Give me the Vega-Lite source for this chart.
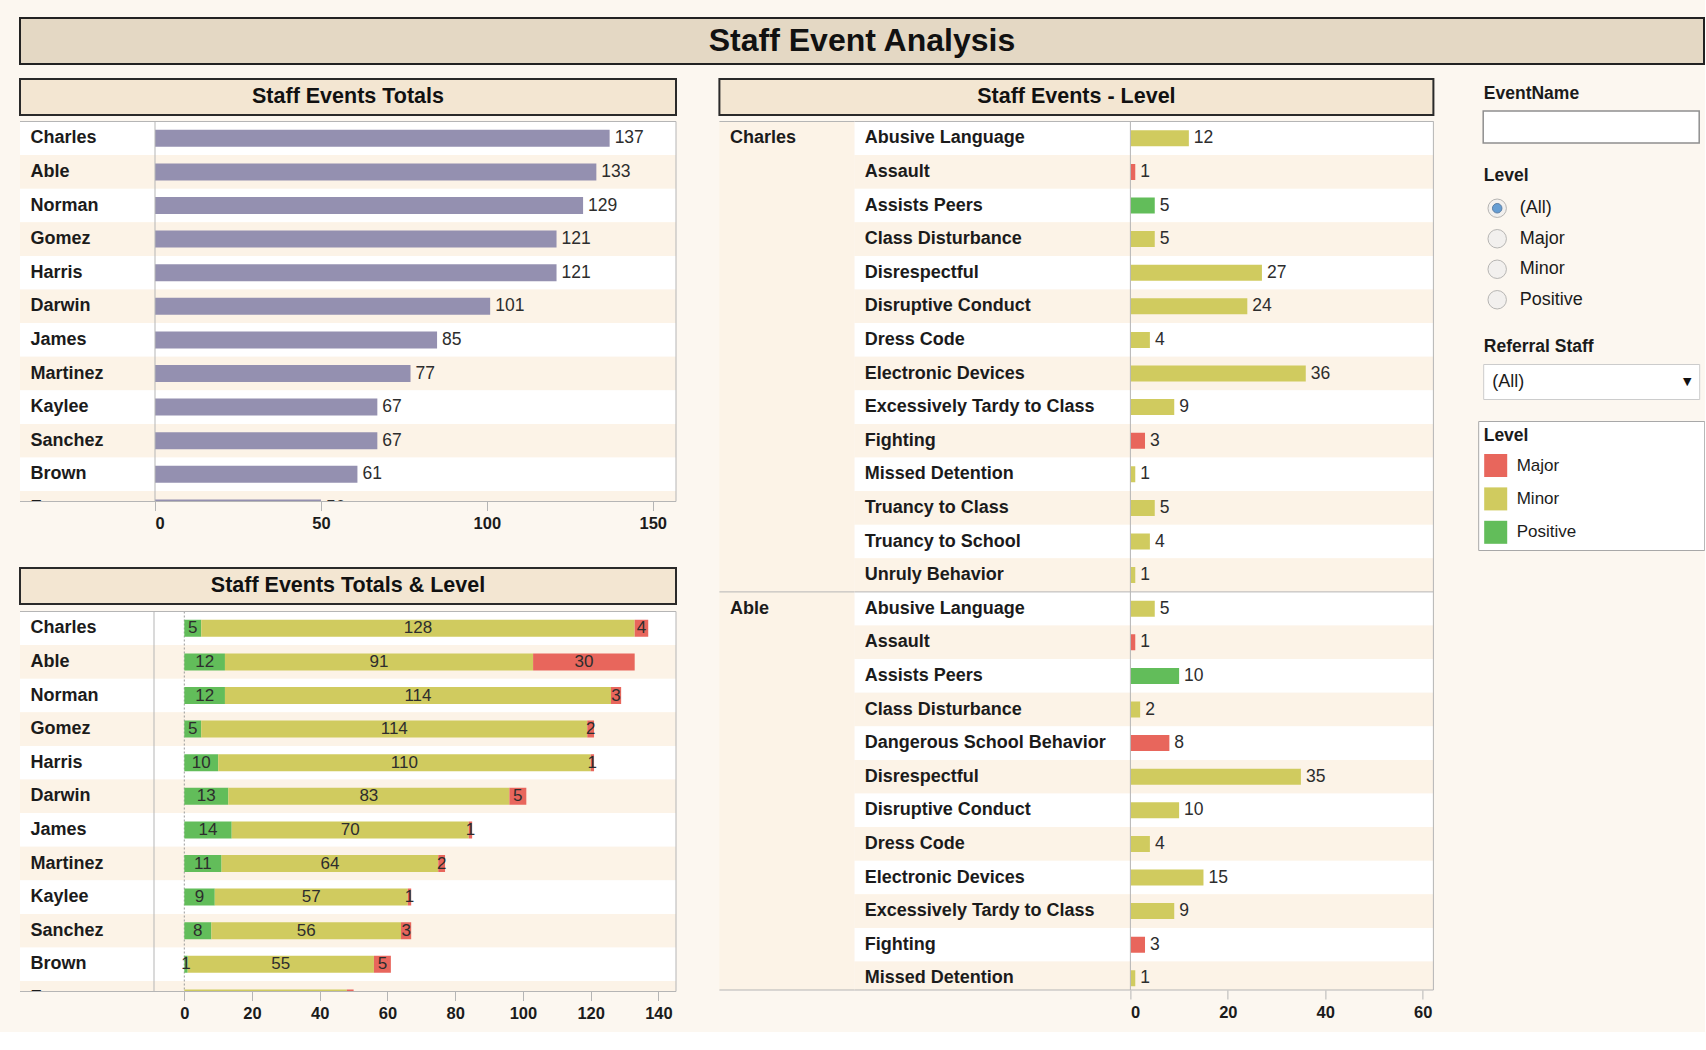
{
"$schema": "https://vega.github.io/schema/vega-lite/v6.json",
"background": "#fcf7f0",
"padding": {"left": 19, "top": 17, "right": 0, "bottom": 0},
"spacing": 13,
"resolve": {"legend": {"color": "independent"}},
"config": {
  "font": "Liberation Sans",
  "view": {"stroke": null},
  "axis": {"labelFont": "Liberation Sans"},
  "legend": {"labelFont": "Liberation Sans", "titleFont": "Liberation Sans"},
  "text": {"font": "Liberation Sans"}
},
"datasets": {
  "levels": [
    {"staff":"Charles","level":"Positive","n":5},{"staff":"Charles","level":"Minor","n":128},{"staff":"Charles","level":"Major","n":4},
    {"staff":"Able","level":"Positive","n":12},{"staff":"Able","level":"Minor","n":91},{"staff":"Able","level":"Major","n":30},
    {"staff":"Norman","level":"Positive","n":12},{"staff":"Norman","level":"Minor","n":114},{"staff":"Norman","level":"Major","n":3},
    {"staff":"Gomez","level":"Positive","n":5},{"staff":"Gomez","level":"Minor","n":114},{"staff":"Gomez","level":"Major","n":2},
    {"staff":"Harris","level":"Positive","n":10},{"staff":"Harris","level":"Minor","n":110},{"staff":"Harris","level":"Major","n":1},
    {"staff":"Darwin","level":"Positive","n":13},{"staff":"Darwin","level":"Minor","n":83},{"staff":"Darwin","level":"Major","n":5},
    {"staff":"James","level":"Positive","n":14},{"staff":"James","level":"Minor","n":70},{"staff":"James","level":"Major","n":1},
    {"staff":"Martinez","level":"Positive","n":11},{"staff":"Martinez","level":"Minor","n":64},{"staff":"Martinez","level":"Major","n":2},
    {"staff":"Kaylee","level":"Positive","n":9},{"staff":"Kaylee","level":"Minor","n":57},{"staff":"Kaylee","level":"Major","n":1},
    {"staff":"Sanchez","level":"Positive","n":8},{"staff":"Sanchez","level":"Minor","n":56},{"staff":"Sanchez","level":"Major","n":3},
    {"staff":"Brown","level":"Positive","n":1},{"staff":"Brown","level":"Minor","n":55},{"staff":"Brown","level":"Major","n":5},
    {"staff":"Fagan","level":"Minor","n":48},{"staff":"Fagan","level":"Major","n":2}
  ],
  "events": [
    {"staff":"Charles","event":"Abusive Language","level":"Minor","n":12},
    {"staff":"Charles","event":"Assault","level":"Major","n":1},
    {"staff":"Charles","event":"Assists Peers","level":"Positive","n":5},
    {"staff":"Charles","event":"Class Disturbance","level":"Minor","n":5},
    {"staff":"Charles","event":"Disrespectful","level":"Minor","n":27},
    {"staff":"Charles","event":"Disruptive Conduct","level":"Minor","n":24},
    {"staff":"Charles","event":"Dress Code","level":"Minor","n":4},
    {"staff":"Charles","event":"Electronic Devices","level":"Minor","n":36},
    {"staff":"Charles","event":"Excessively Tardy to Class","level":"Minor","n":9},
    {"staff":"Charles","event":"Fighting","level":"Major","n":3},
    {"staff":"Charles","event":"Missed Detention","level":"Minor","n":1},
    {"staff":"Charles","event":"Truancy to Class","level":"Minor","n":5},
    {"staff":"Charles","event":"Truancy to School","level":"Minor","n":4},
    {"staff":"Charles","event":"Unruly Behavior","level":"Minor","n":1},
    {"staff":"Able","event":"Abusive Language","level":"Minor","n":5},
    {"staff":"Able","event":"Assault","level":"Major","n":1},
    {"staff":"Able","event":"Assists Peers","level":"Positive","n":10},
    {"staff":"Able","event":"Class Disturbance","level":"Minor","n":2},
    {"staff":"Able","event":"Dangerous School Behavior","level":"Major","n":8},
    {"staff":"Able","event":"Disrespectful","level":"Minor","n":35},
    {"staff":"Able","event":"Disruptive Conduct","level":"Minor","n":10},
    {"staff":"Able","event":"Dress Code","level":"Minor","n":4},
    {"staff":"Able","event":"Electronic Devices","level":"Minor","n":15},
    {"staff":"Able","event":"Excessively Tardy to Class","level":"Minor","n":9},
    {"staff":"Able","event":"Fighting","level":"Major","n":3},
    {"staff":"Able","event":"Missed Detention","level":"Minor","n":1}
  ],
  "options": [{"option":"(All)"},{"option":"Major"},{"option":"Minor"},{"option":"Positive"}]
},
"vconcat": [
  {
    "width": 1684, "height": 46,
    "view": {"fill": "#e4d8c4", "stroke": "#222222", "strokeWidth": 2},
    "data": {"values": [{}]},
    "mark": {"type": "text", "text": "Staff Event Analysis", "fontSize": 32, "fontWeight": "bold", "fill": "#111111"}
  },
  {
    "resolve": {"legend": {"color": "independent"}},
    "hconcat": [
      {
        "vconcat": [
          {
            "vconcat": [
              {
                "width": 656, "height": 36,
                "view": {"fill": "#f3e6d2", "stroke": "#2a2a2a", "strokeWidth": 2},
                "data": {"values": [{}]},
                "mark": {"type": "text", "text": "Staff Events Totals", "fontSize": 21.5, "fontWeight": "bold", "fill": "#111111"}
              },
              {
                "hconcat": [
                  {
                    "width": 135, "height": 380,
                    "data": {"name": "levels"},
                    "transform": [
                      {"aggregate": [{"op": "sum", "field": "n", "as": "total"}], "groupby": ["staff"]},
                      {"window": [{"op": "row_number", "as": "rn"}], "sort": [{"field": "total", "order": "descending"}, {"field": "staff", "order": "ascending"}]}
                    ],
                    "layer": [
                      {"mark": {"type": "rect", "clip": true},
                       "encoding": {
                         "y": {"field": "staff", "type": "nominal", "sort": ["Charles","Able","Norman","Gomez","Harris","Darwin","James","Martinez","Kaylee","Sanchez","Brown","Fagan"], "scale": {"type": "band", "range": [0, 403.2], "paddingInner": 0, "paddingOuter": 0}, "axis": null},
                         "fill": {"condition": {"test": "datum.rn % 2 == 0", "value": "#fcf3e7"}, "value": "#ffffff"}}},
                      {"mark": {"type": "text", "clip": true, "align": "left", "dx": -57, "fontSize": 18, "fontWeight": "bold", "fill": "#1b1b1b"},
                       "encoding": {
                         "y": {"field": "staff", "type": "nominal", "sort": ["Charles","Able","Norman","Gomez","Harris","Darwin","James","Martinez","Kaylee","Sanchez","Brown","Fagan"], "scale": {"type": "band", "range": [0, 403.2], "paddingInner": 0, "paddingOuter": 0}, "axis": null},
                         "text": {"field": "staff", "type": "nominal"}}},
                      {"data": {"values": [{}]}, "mark": {"type": "rule", "stroke": "#b5b5b5"}, "encoding": {"y": {"value": 0}}},
                      {"data": {"values": [{}]}, "mark": {"type": "rule", "stroke": "#b5b5b5"}, "encoding": {"y": {"value": "height"}}}
                    ]
                  },
                  {
                    "width": 521, "height": 380,
                    "data": {"name": "levels"},
                    "transform": [
                      {"aggregate": [{"op": "sum", "field": "n", "as": "total"}], "groupby": ["staff"]},
                      {"window": [{"op": "row_number", "as": "rn"}], "sort": [{"field": "total", "order": "descending"}, {"field": "staff", "order": "ascending"}]}
                    ],
                    "layer": [
                      {"mark": {"type": "rect", "clip": true},
                       "encoding": {
                         "y": {"field": "staff", "type": "nominal", "sort": ["Charles","Able","Norman","Gomez","Harris","Darwin","James","Martinez","Kaylee","Sanchez","Brown","Fagan"], "scale": {"type": "band", "range": [0, 403.2], "paddingInner": 0, "paddingOuter": 0}, "axis": null},
                         "x": {"datum": 0, "type": "quantitative", "scale": {"domain": [0, 157], "nice": false, "zero": false},
                               "axis": {"values": [0, 50, 100, 150], "title": null, "grid": false, "domain": false, "ticks": true, "tickColor": "#b5b5b5", "tickSize": 9, "labelFontSize": 16.5, "labelFontWeight": "bold", "labelColor": "#1b1b1b", "labelPadding": 5, "labelFlush": true, "minExtent": 40, "maxExtent": 40}},
                         "x2": {"datum": 157},
                         "fill": {"condition": {"test": "datum.rn % 2 == 0", "value": "#fcf3e7"}, "value": "#ffffff"}}},
                      {"mark": {"type": "bar", "clip": true, "size": 17, "fill": "#9490b0"},
                       "encoding": {
                         "y": {"field": "staff", "type": "nominal", "sort": ["Charles","Able","Norman","Gomez","Harris","Darwin","James","Martinez","Kaylee","Sanchez","Brown","Fagan"], "scale": {"type": "band", "range": [0, 403.2], "paddingInner": 0, "paddingOuter": 0}, "axis": null},
                         "x": {"field": "total", "type": "quantitative"}}},
                      {"mark": {"type": "text", "clip": true, "align": "left", "dx": 5, "fontSize": 17.5, "fill": "#2d2d2d"},
                       "encoding": {
                         "y": {"field": "staff", "type": "nominal", "sort": ["Charles","Able","Norman","Gomez","Harris","Darwin","James","Martinez","Kaylee","Sanchez","Brown","Fagan"], "scale": {"type": "band", "range": [0, 403.2], "paddingInner": 0, "paddingOuter": 0}, "axis": null},
                         "x": {"field": "total", "type": "quantitative"},
                         "text": {"field": "total", "type": "quantitative"}}},
                      {"data": {"values": [{}]}, "mark": {"type": "rect", "fill": "transparent", "stroke": "#b5b5b5", "strokeWidth": 1},
                       "encoding": {"x": {"value": 0}, "x2": {"value": "width"}, "y": {"value": 0}, "y2": {"value": "height"}}}
                    ]
                  }
                ],
                "spacing": 0, "bounds": "flush"
              }
            ],
            "spacing": 4.5
          },
          {
            "vconcat": [
              {
                "width": 656, "height": 36,
                "view": {"fill": "#f3e6d2", "stroke": "#2a2a2a", "strokeWidth": 2},
                "data": {"values": [{}]},
                "mark": {"type": "text", "text": "Staff Events Totals & Level", "fontSize": 21.5, "fontWeight": "bold", "fill": "#111111"}
              },
              {
                "hconcat": [
                  {
                    "width": 134, "height": 380,
                    "data": {"name": "levels"},
                    "transform": [
                      {"aggregate": [{"op": "sum", "field": "n", "as": "total"}], "groupby": ["staff"]},
                      {"window": [{"op": "row_number", "as": "rn"}], "sort": [{"field": "total", "order": "descending"}, {"field": "staff", "order": "ascending"}]}
                    ],
                    "layer": [
                      {"mark": {"type": "rect", "clip": true},
                       "encoding": {
                         "y": {"field": "staff", "type": "nominal", "sort": ["Charles","Able","Norman","Gomez","Harris","Darwin","James","Martinez","Kaylee","Sanchez","Brown","Fagan"], "scale": {"type": "band", "range": [0, 403.2], "paddingInner": 0, "paddingOuter": 0}, "axis": null},
                         "fill": {"condition": {"test": "datum.rn % 2 == 0", "value": "#fcf3e7"}, "value": "#ffffff"}}},
                      {"mark": {"type": "text", "clip": true, "align": "left", "dx": -56.5, "fontSize": 18, "fontWeight": "bold", "fill": "#1b1b1b"},
                       "encoding": {
                         "y": {"field": "staff", "type": "nominal", "sort": ["Charles","Able","Norman","Gomez","Harris","Darwin","James","Martinez","Kaylee","Sanchez","Brown","Fagan"], "scale": {"type": "band", "range": [0, 403.2], "paddingInner": 0, "paddingOuter": 0}, "axis": null},
                         "text": {"field": "staff", "type": "nominal"}}},
                      {"data": {"values": [{}]}, "mark": {"type": "rule", "stroke": "#b5b5b5"}, "encoding": {"y": {"value": 0}}},
                      {"data": {"values": [{}]}, "mark": {"type": "rule", "stroke": "#b5b5b5"}, "encoding": {"y": {"value": "height"}}}
                    ]
                  },
                  {
                    "width": 522, "height": 380,
                    "data": {"name": "levels"},
                    "layer": [
                      {"transform": [
                         {"aggregate": [{"op": "sum", "field": "n", "as": "total"}], "groupby": ["staff"]},
                         {"window": [{"op": "row_number", "as": "rn"}], "sort": [{"field": "total", "order": "descending"}, {"field": "staff", "order": "ascending"}]}
                       ],
                       "mark": {"type": "rect", "clip": true},
                       "encoding": {
                         "y": {"field": "staff", "type": "nominal", "sort": ["Charles","Able","Norman","Gomez","Harris","Darwin","James","Martinez","Kaylee","Sanchez","Brown","Fagan"], "scale": {"type": "band", "range": [0, 403.2], "paddingInner": 0, "paddingOuter": 0}, "axis": null},
                         "x": {"datum": -8.95, "type": "quantitative", "scale": {"domain": [-8.95, 145.2], "nice": false, "zero": false},
                               "axis": {"values": [0, 20, 40, 60, 80, 100, 120, 140], "title": null, "grid": false, "domain": false, "ticks": true, "tickColor": "#b5b5b5", "tickSize": 9, "labelFontSize": 16.5, "labelFontWeight": "bold", "labelColor": "#1b1b1b", "labelPadding": 5, "labelFlush": true, "minExtent": 40, "maxExtent": 40}},
                         "x2": {"datum": 145.2},
                         "fill": {"condition": {"test": "datum.rn % 2 == 0", "value": "#fcf3e7"}, "value": "#ffffff"}}},
                      {"data": {"values": [{}]},
                       "mark": {"type": "rule", "stroke": "#9a9a9a", "strokeDash": [2, 2]},
                       "encoding": {"x": {"datum": 0, "type": "quantitative"}, "y": {"value": 0}, "y2": {"value": "height"}}},
                      {"transform": [
                         {"stack": "n", "groupby": ["staff"], "sort": [{"field": "level", "order": "descending"}], "as": ["x0", "x1"]},
                         {"calculate": "(datum.x0 + datum.x1) / 2", "as": "xm"}
                       ],
                       "mark": {"type": "bar", "clip": true, "size": 17},
                       "encoding": {
                         "y": {"field": "staff", "type": "nominal", "sort": ["Charles","Able","Norman","Gomez","Harris","Darwin","James","Martinez","Kaylee","Sanchez","Brown","Fagan"], "scale": {"type": "band", "range": [0, 403.2], "paddingInner": 0, "paddingOuter": 0}, "axis": null},
                         "x": {"field": "x0", "type": "quantitative"},
                         "x2": {"field": "x1"},
                         "fill": {"field": "level", "type": "nominal", "scale": {"domain": ["Major", "Minor", "Positive"], "range": ["#e8665c", "#d0cb5f", "#62bd5a"]}, "legend": null}}},
                      {"transform": [
                         {"stack": "n", "groupby": ["staff"], "sort": [{"field": "level", "order": "descending"}], "as": ["x0", "x1"]},
                         {"calculate": "(datum.x0 + datum.x1) / 2", "as": "xm"}
                       ],
                       "mark": {"type": "text", "clip": true, "fontSize": 17, "fill": "#2d2d2d"},
                       "encoding": {
                         "y": {"field": "staff", "type": "nominal", "sort": ["Charles","Able","Norman","Gomez","Harris","Darwin","James","Martinez","Kaylee","Sanchez","Brown","Fagan"], "scale": {"type": "band", "range": [0, 403.2], "paddingInner": 0, "paddingOuter": 0}, "axis": null},
                         "x": {"field": "xm", "type": "quantitative"},
                         "text": {"field": "n", "type": "quantitative"}}},
                      {"data": {"values": [{}]}, "mark": {"type": "rect", "fill": "transparent", "stroke": "#b5b5b5", "strokeWidth": 1},
                       "encoding": {"x": {"value": 0}, "x2": {"value": "width"}, "y": {"value": 0}, "y2": {"value": "height"}}}
                    ]
                  }
                ],
                "spacing": 0, "bounds": "flush"
              }
            ],
            "spacing": 5.5
          }
        ],
        "spacing": 25
      },
      {
        "resolve": {"legend": {"color": "independent"}},
        "hconcat": [
          {
            "vconcat": [
              {
                "width": 714, "height": 36,
                "view": {"fill": "#f3e6d2", "stroke": "#2a2a2a", "strokeWidth": 2},
                "data": {"values": [{}]},
                "mark": {"type": "text", "text": "Staff Events - Level", "fontSize": 21.5, "fontWeight": "bold", "fill": "#111111"}
              },
              {
                "hconcat": [
                  {
                    "width": 135, "height": 868.5,
                    "view": {"fill": "#fcf3e7"},
                    "data": {"name": "events"},
                    "transform": [
                      {"calculate": "datum.staff + ' | ' + datum.event", "as": "key"},
                      {"window": [{"op": "row_number", "as": "rn"}]},
                      {"window": [{"op": "row_number", "as": "rs"}], "groupby": ["staff"]}
                    ],
                    "layer": [
                      {"mark": {"type": "rule", "stroke": "#b5b5b5"},
                       "encoding": {
                         "y": {"field": "key", "type": "nominal", "sort": null, "bandPosition": 0, "scale": {"type": "band", "range": [0, 873.6], "paddingInner": 0, "paddingOuter": 0}, "axis": null},
                         "strokeOpacity": {"condition": {"test": "datum.rs == 1", "value": 1}, "value": 0}}},
                      {"mark": {"type": "text", "clip": true, "align": "left", "dx": -56.9, "fontSize": 18, "fontWeight": "bold", "fill": "#1b1b1b"},
                       "encoding": {
                         "y": {"field": "key", "type": "nominal", "sort": null, "scale": {"type": "band", "range": [0, 873.6], "paddingInner": 0, "paddingOuter": 0}, "axis": null},
                         "text": {"condition": {"test": "datum.rs == 1", "field": "staff", "type": "nominal"}, "value": ""}}},
                      {"data": {"values": [{}]}, "mark": {"type": "rule", "stroke": "#b5b5b5"}, "encoding": {"y": {"value": "height"}}}
                    ]
                  },
                  {
                    "width": 276, "height": 868.5,
                    "data": {"name": "events"},
                    "transform": [
                      {"calculate": "datum.staff + ' | ' + datum.event", "as": "key"},
                      {"window": [{"op": "row_number", "as": "rn"}]},
                      {"window": [{"op": "row_number", "as": "rs"}], "groupby": ["staff"]}
                    ],
                    "layer": [
                      {"mark": {"type": "rect", "clip": true},
                       "encoding": {
                         "y": {"field": "key", "type": "nominal", "sort": null, "scale": {"type": "band", "range": [0, 873.6], "paddingInner": 0, "paddingOuter": 0}, "axis": null},
                         "fill": {"condition": {"test": "datum.rn % 2 == 0", "value": "#fcf3e7"}, "value": "#ffffff"}}},
                      {"mark": {"type": "rule", "stroke": "#b5b5b5"},
                       "encoding": {
                         "y": {"field": "key", "type": "nominal", "sort": null, "bandPosition": 0, "scale": {"type": "band", "range": [0, 873.6], "paddingInner": 0, "paddingOuter": 0}, "axis": null},
                         "strokeOpacity": {"condition": {"test": "datum.rs == 1", "value": 1}, "value": 0}}},
                      {"mark": {"type": "text", "clip": true, "align": "left", "dx": -127.6, "fontSize": 18, "fontWeight": "bold", "fill": "#1b1b1b"},
                       "encoding": {
                         "y": {"field": "key", "type": "nominal", "sort": null, "scale": {"type": "band", "range": [0, 873.6], "paddingInner": 0, "paddingOuter": 0}, "axis": null},
                         "text": {"field": "event", "type": "nominal"}}},
                      {"data": {"values": [{}]}, "mark": {"type": "rule", "stroke": "#b5b5b5"}, "encoding": {"y": {"value": "height"}}}
                    ]
                  },
                  {
                    "width": 303, "height": 868.5,
                    "data": {"name": "events"},
                    "transform": [
                      {"calculate": "datum.staff + ' | ' + datum.event", "as": "key"},
                      {"window": [{"op": "row_number", "as": "rn"}]},
                      {"window": [{"op": "row_number", "as": "rs"}], "groupby": ["staff"]}
                    ],
                    "layer": [
                      {"mark": {"type": "rect", "clip": true},
                       "encoding": {
                         "y": {"field": "key", "type": "nominal", "sort": null, "scale": {"type": "band", "range": [0, 873.6], "paddingInner": 0, "paddingOuter": 0}, "axis": null},
                         "x": {"datum": 0, "type": "quantitative", "scale": {"domain": [0, 62.2], "nice": false, "zero": false},
                               "axis": {"values": [0, 20, 40, 60], "title": null, "grid": false, "domain": false, "ticks": true, "tickColor": "#b5b5b5", "tickSize": 9, "labelFontSize": 16.5, "labelFontWeight": "bold", "labelColor": "#1b1b1b", "labelPadding": 5, "labelFlush": true, "minExtent": 40, "maxExtent": 40}},
                         "x2": {"datum": 62.2},
                         "fill": {"condition": {"test": "datum.rn % 2 == 0", "value": "#fcf3e7"}, "value": "#ffffff"}}},
                      {"mark": {"type": "rule", "stroke": "#b5b5b5"},
                       "encoding": {
                         "y": {"field": "key", "type": "nominal", "sort": null, "bandPosition": 0, "scale": {"type": "band", "range": [0, 873.6], "paddingInner": 0, "paddingOuter": 0}, "axis": null},
                         "x": {"datum": 0, "type": "quantitative"},
                         "x2": {"datum": 62.2},
                         "strokeOpacity": {"condition": {"test": "datum.rs == 1", "value": 1}, "value": 0}}},
                      {"mark": {"type": "bar", "clip": true, "size": 16},
                       "encoding": {
                         "y": {"field": "key", "type": "nominal", "sort": null, "scale": {"type": "band", "range": [0, 873.6], "paddingInner": 0, "paddingOuter": 0}, "axis": null},
                         "x": {"field": "n", "type": "quantitative"},
                         "fill": {"field": "level", "type": "nominal", "scale": {"domain": ["Major", "Minor", "Positive"], "range": ["#e8665c", "#d0cb5f", "#62bd5a"]}, "legend": null}}},
                      {"mark": {"type": "text", "clip": true, "align": "left", "dx": 5, "fontSize": 17.5, "fill": "#2d2d2d"},
                       "encoding": {
                         "y": {"field": "key", "type": "nominal", "sort": null, "scale": {"type": "band", "range": [0, 873.6], "paddingInner": 0, "paddingOuter": 0}, "axis": null},
                         "x": {"field": "n", "type": "quantitative"},
                         "text": {"field": "n", "type": "quantitative"}}},
                      {"data": {"values": [{}]}, "mark": {"type": "rect", "fill": "transparent", "stroke": "#b5b5b5", "strokeWidth": 1},
                       "encoding": {"x": {"value": 0}, "x2": {"value": "width"}, "y": {"value": 0}, "y2": {"value": "height"}}}
                    ]
                  }
                ],
                "spacing": 0, "bounds": "flush"
              }
            ],
            "spacing": 4.5
          },
          {
            "resolve": {"legend": {"color": "independent"}},
            "vconcat": [
              {
                "width": 216, "height": 32,
                "data": {"values": [{}]},
                "mark": {"type": "text", "text": "EventName", "align": "left", "dx": -107.4, "dy": -0.7, "fontSize": 17.5, "fontWeight": "bold", "fill": "#1b1b1b"}
              },
              {
                "width": 216, "height": 32,
                "view": {"fill": "#ffffff", "stroke": "#8f8f8f", "strokeWidth": 1.5},
                "data": {"values": []},
                "mark": "text"
              },
              {
                "width": 216, "height": 49.5,
                "data": {"values": [{}]},
                "mark": {"type": "text", "text": "Level", "align": "left", "dx": -107.4, "dy": 8.5, "fontSize": 17.5, "fontWeight": "bold", "fill": "#1b1b1b"}
              },
              {
                "width": 28, "height": 122,
                "data": {"name": "options"},
                "layer": [
                  {"mark": {"type": "point", "shape": "circle", "filled": true, "size": 340, "fill": "#eeeeee", "stroke": "#9a9a9a", "strokeWidth": 1},
                   "encoding": {"y": {"field": "option", "type": "nominal", "sort": null, "scale": {"type": "point", "padding": 0.5}, "axis": null}}},
                  {"mark": {"type": "point", "shape": "circle", "filled": true, "size": 90, "stroke": "#1d4f86", "strokeWidth": 1},
                   "encoding": {"y": {"field": "option", "type": "nominal", "sort": null, "scale": {"type": "point", "padding": 0.5}, "axis": null},
                                "fill": {"condition": {"test": "datum.option == '(All)'", "value": "#2a7bc8"}, "value": "transparent"},
                                "strokeOpacity": {"condition": {"test": "datum.option == '(All)'", "value": 1}, "value": 0}}},
                  {"mark": {"type": "text", "align": "left", "dx": 22.6, "fontSize": 18, "fill": "#1b1b1b"},
                   "encoding": {"y": {"field": "option", "type": "nominal", "sort": null, "scale": {"type": "point", "padding": 0.5}, "axis": null},
                                "text": {"field": "option", "type": "nominal"}}}
                ]
              },
              {
                "width": 216, "height": 48.5,
                "data": {"values": [{}]},
                "mark": {"type": "text", "text": "Referral Staff", "align": "left", "dx": -107.4, "dy": 7.3, "fontSize": 17.5, "fontWeight": "bold", "fill": "#1b1b1b"}
              },
              {
                "width": 216, "height": 35,
                "view": {"fill": "#ffffff", "stroke": "#cccccc", "strokeWidth": 1},
                "data": {"values": [{}]},
                "layer": [
                  {"mark": {"type": "text", "text": "(All)", "align": "left", "dx": -99, "fontSize": 18, "fill": "#1b1b1b"}},
                  {"mark": {"type": "text", "text": "▼", "font": "DejaVu Sans", "fontSize": 11, "dx": 96, "fill": "#111111"}}
                ]
              },
              {
                "width": 216, "height": 22,
                "data": {"values": []},
                "mark": "text"
              },
              {
                "width": 216, "height": 130,
                "data": {"name": "levels"},
                "transform": [{"filter": "false"}],
                "mark": "square",
                "encoding": {
                  "color": {"field": "level", "type": "nominal",
                            "scale": {"domain": ["Major", "Minor", "Positive"], "range": ["#e8665c", "#d0cb5f", "#62bd5a"]},
                            "legend": {"orient": "none", "legendX": -5, "legendY": 0, "title": "Level",
                                       "titleFontSize": 17.5, "titleFontWeight": "bold", "titleColor": "#1b1b1b", "titlePadding": 9.5,
                                       "labelFontSize": 17, "labelColor": "#1b1b1b", "labelOffset": 9, "labelLimit": 600,
                                       "labelExpr": "datum.label + '\u00a0\u00a0\u00a0\u00a0\u00a0\u00a0\u00a0\u00a0\u00a0\u00a0\u00a0\u00a0\u00a0\u00a0\u00a0\u00a0\u00a0\u00a0\u00a0\u00a0\u00a0\u00a0\u00a0\u00a0\u00a0\u2009\u200b'",
                                       "symbolType": "square", "symbolSize": 530, "symbolStrokeWidth": 0, "symbolOpacity": 1,
                                       "rowPadding": 9.4, "padding": 5.5, "fillColor": "#ffffff", "strokeColor": "#a8a8a8"}}}
              }
            ],
            "spacing": 0, "bounds": "flush"
          }
        ],
        "spacing": 42.8
      }
    ],
    "spacing": 41.4
  }
]
}
